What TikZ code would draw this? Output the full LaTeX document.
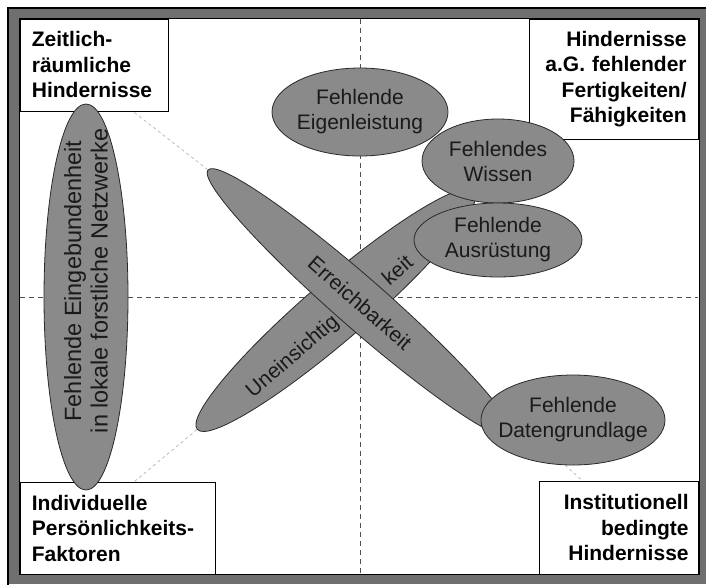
\documentclass[tikz,border=0pt]{standalone}
\usepackage{fontspec}
\setmainfont{Liberation Sans}
\usepackage{tikz}
\usetikzlibrary{shapes.geometric}

\begin{document}
\begin{tikzpicture}[x=1pt,y=-1pt,line cap=rect,
	blob/.style={ellipse, draw=custcol_2a_2a_2a, fill=custcol_8a_8a_8a, line width=0.8pt, inner sep=0pt},
	blobtext/.style={inner sep=0pt, align=center, text=custcol_1a_1a_1a, font=\fontsize{21pt}{25pt}\selectfont},
	cornerbox/.style={draw=black, fill=white, line width=0.8pt, inner ysep=0pt, font=\bfseries\fontsize{21pt}{25.5pt}\selectfont},
	guide/.style={custcol_b4_b4_b4, line width=0.7pt, line cap=butt, dash pattern=on 3pt off 3pt},
	divider/.style={custcol_50_50_50, line width=0.8pt, line cap=butt, dash pattern=on 5pt off 4pt}]
					\definecolor{custcol_2a_2a_2a}{RGB}{42, 42, 42}
					\definecolor{custcol_8a_8a_8a}{RGB}{138, 138, 138}
					\definecolor{custcol_1a_1a_1a}{RGB}{26, 26, 26}
					\definecolor{custcol_b4_b4_b4}{RGB}{180, 180, 180}
					\definecolor{custcol_50_50_50}{RGB}{80, 80, 80}
					\definecolor{custcol_6f_6f_6f}{RGB}{111, 111, 111}
					\useasboundingbox (0.0,0.0) rectangle (706.0,584.0);
					% frame
					\fill [custcol_6f_6f_6f]  (8.0,8.0) rectangle (706.0,584.0);
					\draw [line width=2.0pt, black]  (8.0,584.0) -- (8.0,8.0) -- (706.0,8.0);
					\draw [line width=1.0pt, black, fill=white]  (19.5,18.5) rectangle (699.0,574.5);
					% dashed quadrant lines
					\coordinate (vtop) at (360.0,19.0);
					\coordinate (vbot) at (360.0,574.0);
					\coordinate (hleft) at (20.0,297.0);
					\coordinate (hright) at (698.0,297.0);
					\draw [divider]  (vtop) -- (vbot);
					\draw [divider]  (hleft) -- (hright);
					% corner boxes
					\node[cornerbox, anchor=north west, inner xsep=12pt, text width=124pt, minimum width=148pt, minimum height=92pt, align=left] (zeitraum) at (19.5,18.5) {Zeitlich-\\räumliche\\Hindernisse};
					\node[cornerbox, anchor=north east, inner xsep=12pt, text width=145pt, minimum width=169pt, minimum height=120pt, align=right] (faehig) at (699.0,18.5) {Hindernisse\\a.G. fehlender\\Fertigkeiten/\\Fähigkeiten};
					\node[cornerbox, anchor=south west, inner xsep=12pt, text width=171pt, minimum width=195pt, minimum height=92pt, align=left] (person) at (19.5,574.5) {Individuelle\\Persönlichkeits-\\Faktoren};
					\node[cornerbox, anchor=south east, inner xsep=10pt, text width=139pt, minimum width=159pt, minimum height=93pt, align=right] (instit) at (699.0,574.5) {Institutionell\\bedingte\\Hindernisse};
					% ellipses
					\node[blob, minimum width=84pt, minimum height=386pt] (eingeb) at (86.0,297.0) {};
					\node[blobtext, rotate=90, font=\fontsize{23.5pt}{26.5pt}\selectfont] (eingebtext) at (86.0,281.0) {Fehlende Eingebundenheit\\in lokale forstliche Netzwerke};
					\node[blob, rotate=40.7, minimum width=366pt, minimum height=60pt] (unein) at (336.0,310.0) {};
					\node[blob, rotate=-41.2, minimum width=404pt, minimum height=50pt] (erreich) at (360.0,303.0) {};
					\node[blobtext, rotate=-41.2] (erreichtext) at (erreich) {Erreichbarkeit};
					\node[blobtext, rotate=40.7] (uneintext) at (293.0,357.0) {Uneinsichtig};
					\node[blobtext, rotate=40.7] (keittext) at (397.0,270.0) {keit};
					\node[blob, minimum width=176pt, minimum height=88pt] (eigen) at (360.0,112.0) {};
					\node[blobtext] (eigentext) at (eigen) {Fehlende\\Eigenleistung};
					\node[blob, minimum width=152pt, minimum height=84pt] (wissen) at (498.0,161.0) {};
					\node[blobtext] (wissentext) at (wissen) {Fehlendes\\Wissen};
					\node[blob, minimum width=168pt, minimum height=74pt] (ausruest) at (498.0,240.0) {};
					\node[blobtext] (ausruesttext) at (ausruest) {Fehlende\\Ausrüstung};
					\node[blob, minimum width=184pt, minimum height=90pt] (daten) at (573.0,420.0) {};
					\node[blobtext] (datentext) at (daten) {Fehlende\\Datengrundlage};
					% light guide lines to the corner boxes
					\draw [guide]  (erreich.west) -- (zeitraum.-50);
					\draw [guide]  (unein.west) -- (person.70);
					\draw [guide]  (daten.-100) -- (instit.128);
				\end{tikzpicture}
\end{document}
